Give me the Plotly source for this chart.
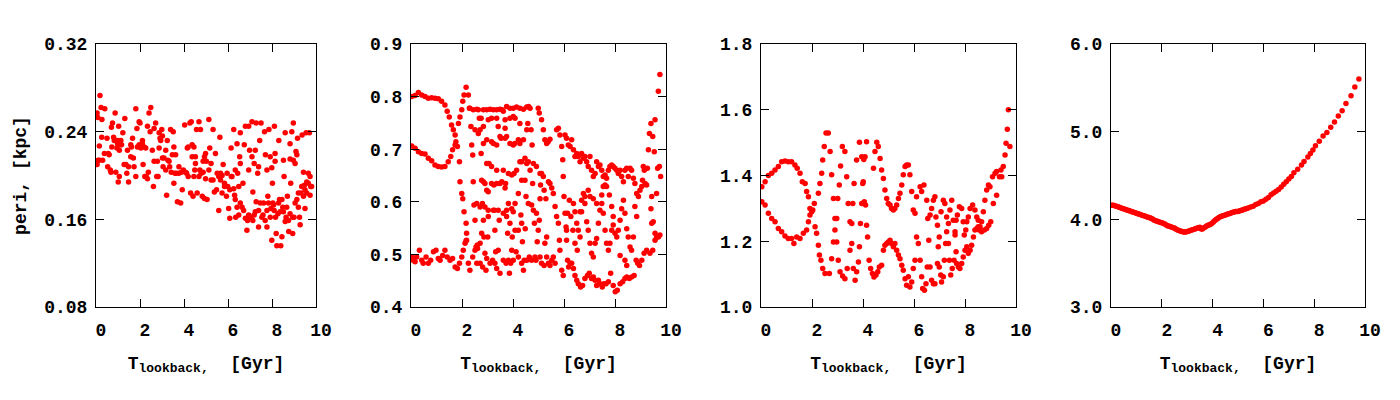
import plotly.graph_objects as go

# (T_lookback [Gyr], peri [kpc])
peri_a = [
    (0.05, 0.257), (0.18, 0.273), (0.08, 0.253), (0.23, 0.262), (0.27, 0.251), (0.4, 0.261), (0.26, 0.235),
    (0.15, 0.227), (0.05, 0.21), (0.1, 0.214), (0.3, 0.214), (0.5, 0.234), (0.56, 0.22), (0.53, 0.208),
    (0.68, 0.203), (0.75, 0.248), (0.7, 0.244), (0.87, 0.257), (0.8, 0.235), (0.9, 0.232), (0.98, 0.229),
    (1.03, 0.245), (1.06, 0.199), (1.01, 0.194), (1.13, 0.232), (1.16, 0.228), (1.22, 0.239), (1.31, 0.252),
    (1.28, 0.21), (1.4, 0.202), (1.43, 0.223), (1.48, 0.194), (1.58, 0.228), (1.66, 0.234), (1.7, 0.216),
    (1.73, 0.208), (1.81, 0.261), (1.86, 0.243), (1.81, 0.199), (1.96, 0.249), (2.0, 0.248), (2.04, 0.225),
    (2.11, 0.232), (2.14, 0.21), (2.22, 0.199), (2.26, 0.225), (2.34, 0.245), (2.38, 0.203), (2.49, 0.262),
    (2.46, 0.24), (2.56, 0.223), (2.61, 0.19), (2.64, 0.243), (2.71, 0.248), (2.79, 0.213), (2.82, 0.199),
    (2.87, 0.225), (2.94, 0.232), (2.99, 0.242), (3.05, 0.208), (3.09, 0.216), (3.17, 0.223), (3.21, 0.182),
    (3.24, 0.232), (3.32, 0.213), (3.39, 0.242), (3.42, 0.203), (3.51, 0.24), (3.54, 0.193), (3.62, 0.219),
    (3.65, 0.202), (3.7, 0.176), (3.77, 0.208), (3.85, 0.175), (3.88, 0.203), (3.92, 0.187), (4.03, 0.246),
    (4.07, 0.203), (4.15, 0.225), (4.19, 0.199), (4.27, 0.248), (4.3, 0.184), (4.33, 0.249), (4.37, 0.217),
    (4.41, 0.181), (4.45, 0.199), (4.52, 0.211), (4.57, 0.242), (4.6, 0.184), (4.68, 0.249), (4.72, 0.205),
    (4.75, 0.242), (4.83, 0.181), (4.87, 0.213), (4.93, 0.179), (4.98, 0.22), (5.05, 0.178), (5.13, 0.251),
    (5.17, 0.225), (5.23, 0.196), (5.32, 0.242), (5.38, 0.185), (5.43, 0.22), (5.51, 0.202), (5.58, 0.168),
    (5.63, 0.235), (5.66, 0.202), (5.73, 0.184), (5.78, 0.21), (5.84, 0.193), (5.93, 0.181), (6.03, 0.17),
    (6.08, 0.161), (6.14, 0.225), (6.18, 0.199), (6.26, 0.242), (6.3, 0.182), (6.35, 0.162), (6.41, 0.229),
    (6.44, 0.202), (6.49, 0.164), (6.53, 0.217), (6.56, 0.239), (6.64, 0.171), (6.68, 0.193), (6.74, 0.228),
    (6.79, 0.245), (6.86, 0.15), (6.89, 0.159), (6.94, 0.245), (6.98, 0.223), (7.04, 0.162), (7.09, 0.249),
    (7.13, 0.185), (7.19, 0.211), (7.24, 0.167), (7.28, 0.248), (7.35, 0.202), (7.39, 0.153), (7.44, 0.232),
    (7.5, 0.248), (7.54, 0.162), (7.62, 0.175), (7.66, 0.24), (7.7, 0.219), (7.77, 0.153), (7.81, 0.181),
    (7.86, 0.242), (7.92, 0.217), (7.99, 0.141), (8.02, 0.193), (8.07, 0.173), (8.11, 0.245), (8.14, 0.213),
    (8.19, 0.147), (8.22, 0.136), (8.27, 0.165), (8.31, 0.232), (8.34, 0.178), (8.4, 0.136), (8.45, 0.144),
    (8.49, 0.171), (8.55, 0.199), (8.6, 0.239), (8.64, 0.162), (8.7, 0.181), (8.76, 0.149), (8.82, 0.229),
    (8.85, 0.193), (8.9, 0.24), (8.94, 0.147), (8.97, 0.248), (9.0, 0.162), (9.05, 0.211), (9.09, 0.222),
    (9.16, 0.234), (9.2, 0.171), (9.25, 0.162), (9.28, 0.155), (9.32, 0.184), (9.37, 0.237), (9.43, 0.203),
    (9.47, 0.191), (9.5, 0.17), (9.55, 0.239), (9.58, 0.194), (9.65, 0.202), (9.7, 0.239), (9.73, 0.182),
    (9.76, 0.19),
    (0.0, 0.255), (0.03, 0.213), (0.15, 0.214), (0.38, 0.22), (0.6, 0.219), (0.72, 0.226), (0.83, 0.232),
    (0.95, 0.225), (1.06, 0.223), (1.1, 0.228), (1.01, 0.232), (0.9, 0.203), (0.65, 0.205), (1.36, 0.21),
    (1.48, 0.208), (1.58, 0.217), (1.61, 0.226), (1.88, 0.226), (1.96, 0.228), (2.11, 0.229), (2.19, 0.226),
    (2.28, 0.199), (2.34, 0.197), (2.41, 0.257), (2.64, 0.213), (2.76, 0.199), (2.87, 0.239), (2.91, 0.234),
    (3.02, 0.236), (3.02, 0.216), (3.17, 0.205), (3.27, 0.214), (3.35, 0.208), (3.47, 0.219), (3.54, 0.226),
    (3.59, 0.202), (3.77, 0.202), (3.97, 0.205), (4.12, 0.202), (4.19, 0.226), (4.37, 0.228), (4.45, 0.226),
    (4.49, 0.205), (4.52, 0.217), (4.68, 0.199), (4.78, 0.202), (4.87, 0.203), (4.93, 0.217), (4.98, 0.197),
    (5.02, 0.213), (5.13, 0.205), (5.23, 0.211), (5.32, 0.196), (5.48, 0.187), (5.58, 0.199), (5.66, 0.196),
    (5.73, 0.2), (5.84, 0.19), (5.96, 0.202), (5.99, 0.19), (6.08, 0.187), (6.15, 0.199), (6.26, 0.188),
    (6.33, 0.178), (6.41, 0.171), (6.49, 0.19), (6.56, 0.175), (6.71, 0.168), (6.79, 0.161), (6.94, 0.164),
    (7.01, 0.162), (7.13, 0.159), (7.19, 0.164), (7.28, 0.176), (7.39, 0.168), (7.47, 0.175), (7.59, 0.164),
    (7.69, 0.159), (7.77, 0.168), (7.84, 0.175), (7.92, 0.162), (7.95, 0.17), (8.04, 0.175), (8.1, 0.168),
    (8.16, 0.162), (8.3, 0.175), (8.37, 0.167), (8.45, 0.178), (8.52, 0.167), (8.6, 0.158), (8.67, 0.171),
    (8.75, 0.159), (8.82, 0.165), (8.94, 0.162), (9.05, 0.175), (9.13, 0.178), (9.2, 0.184), (9.35, 0.19),
    (9.43, 0.181), (9.5, 0.187), (9.58, 0.184), (9.65, 0.193), (9.73, 0.199), (9.8, 0.19), (8.82, 0.215),
    (8.97, 0.214), (9.13, 0.219), (8.52, 0.214), (8.14, 0.22), (7.99, 0.207), (7.77, 0.205), (7.39, 0.208),
    (7.24, 0.223), (7.09, 0.217), (6.94, 0.205), (6.56, 0.211), (6.33, 0.205),
]

peri_b = [
    (0.03, 0.80), (0.16, 0.802), (0.29, 0.808), (0.42, 0.803), (0.55, 0.80), (0.68, 0.797), (0.81, 0.798),
    (0.94, 0.797), (1.07, 0.796), (1.2, 0.791), (1.33, 0.784), (1.42, 0.772), (1.5, 0.761), (1.59, 0.746),
    (1.66, 0.737), (1.73, 0.727), (1.76, 0.714),
    (0.03, 0.706), (0.16, 0.702), (0.29, 0.695), (0.42, 0.692), (0.55, 0.691), (0.68, 0.683), (0.81, 0.678),
    (0.94, 0.67), (1.07, 0.667), (1.2, 0.666), (1.33, 0.667), (1.46, 0.676), (1.56, 0.686), (1.63, 0.699),
    (1.73, 0.708),
    (1.82, 0.705), (1.9, 0.676), (1.92, 0.638), (1.99, 0.616), (2.03, 0.606), (2.08, 0.581), (2.16, 0.559),
    (2.18, 0.54), (2.16, 0.526), (1.86, 0.749), (1.92, 0.761), (1.99, 0.775), (2.03, 0.791), (2.08, 0.803),
    (2.16, 0.818), (2.25, 0.803), (2.29, 0.778),
    (2.31, 0.778), (2.35, 0.743), (2.38, 0.708), (2.42, 0.689), (2.44, 0.638), (2.47, 0.594), (2.51, 0.565),
    (2.55, 0.514), (2.58, 0.483), (2.61, 0.511), (2.64, 0.775), (2.68, 0.759), (2.71, 0.737), (2.75, 0.692),
    (2.77, 0.641), (2.8, 0.597), (2.84, 0.565), (2.86, 0.533), (2.9, 0.502), (2.94, 0.47), (2.97, 0.492),
    (3.01, 0.533), (3.03, 0.572), (3.03, 0.619), (3.06, 0.673), (3.1, 0.776), (3.16, 0.759), (3.23, 0.711),
    (3.25, 0.632), (3.27, 0.584), (3.29, 0.546), (3.32, 0.505), (3.36, 0.473), (3.42, 0.508), (3.46, 0.565),
    (3.49, 0.635), (3.53, 0.721), (3.57, 0.775), (3.62, 0.772), (3.69, 0.721), (3.71, 0.635), (3.75, 0.584),
    (3.79, 0.54), (3.82, 0.489), (3.86, 0.464), (3.91, 0.483), (3.95, 0.508), (3.97, 0.533), (4.01, 0.581),
    (4.04, 0.654), (4.07, 0.711), (4.08, 0.759), (4.14, 0.78), (4.21, 0.718), (4.27, 0.676), (4.31, 0.575),
    (4.37, 0.524), (4.41, 0.47), (4.44, 0.489), (4.48, 0.549), (4.51, 0.61), (4.54, 0.673), (4.58, 0.749),
    (4.61, 0.781), (4.67, 0.778), (4.71, 0.737), (4.75, 0.708), (4.77, 0.635), (4.8, 0.584), (4.84, 0.559),
    (4.86, 0.495), (4.9, 0.489), (4.95, 0.524), (4.99, 0.546), (5.03, 0.565), (5.06, 0.606), (5.08, 0.632),
    (4.99, 0.778), (5.03, 0.769), (5.12, 0.756), (5.19, 0.737), (5.25, 0.718), (5.32, 0.711), (5.38, 0.714),
    (5.45, 0.719), (5.39, 0.638), (5.45, 0.635), (5.52, 0.626), (5.58, 0.616), (5.65, 0.591), (5.71, 0.572),
    (5.78, 0.559), (5.82, 0.527), (5.84, 0.508), (5.32, 0.495), (5.39, 0.483), (5.45, 0.479), (5.52, 0.489),
    (5.58, 0.495), (5.65, 0.483), (5.71, 0.737), (5.78, 0.74), (5.84, 0.727), (5.91, 0.705), (5.95, 0.68),
    (5.97, 0.648), (6.0, 0.61), (6.04, 0.578), (6.08, 0.552), (6.1, 0.527), (6.14, 0.489), (6.18, 0.476),
    (6.24, 0.483), (5.91, 0.47), (5.97, 0.46), (6.04, 0.727), (6.1, 0.721), (6.17, 0.708), (6.24, 0.705),
    (6.3, 0.718), (6.37, 0.699), (6.43, 0.686), (6.5, 0.692), (6.56, 0.686), (6.63, 0.676), (6.69, 0.692),
    (6.76, 0.683), (6.82, 0.686), (6.89, 0.676), (6.95, 0.667), (7.02, 0.686), (7.08, 0.66), (7.15, 0.648),
    (7.22, 0.654), (7.28, 0.676), (7.35, 0.667), (7.41, 0.67), (7.48, 0.66), (7.54, 0.648), (7.61, 0.651),
    (7.67, 0.645), (7.74, 0.66), (7.8, 0.667), (7.87, 0.67), (7.93, 0.667), (8.0, 0.664), (8.07, 0.66),
    (8.13, 0.654), (8.2, 0.66), (8.26, 0.648), (8.33, 0.638), (8.39, 0.66), (8.46, 0.664), (8.52, 0.648),
    (8.59, 0.664), (8.65, 0.66), (8.72, 0.645), (8.78, 0.635), (8.85, 0.616), (8.92, 0.61), (8.98, 0.622),
    (9.05, 0.629), (9.08, 0.641), (9.11, 0.667), (9.15, 0.66), (9.18, 0.635), (9.24, 0.632), (9.27, 0.664),
    (9.31, 0.699), (9.35, 0.73), (9.41, 0.749), (9.48, 0.724), (9.54, 0.695), (9.57, 0.756), (9.63, 0.616),
    (9.67, 0.664), (9.7, 0.81), (9.76, 0.842), (9.79, 0.648), (9.74, 0.667), (9.44, 0.61), (9.41, 0.587),
    (9.44, 0.559), (9.5, 0.562), (9.57, 0.54), (9.63, 0.533), (9.7, 0.533), (9.76, 0.537), (9.57, 0.527),
    (9.48, 0.508), (9.37, 0.502), (9.24, 0.508), (9.14, 0.502), (9.05, 0.489), (8.96, 0.479), (8.89, 0.483),
    (8.83, 0.489), (8.75, 0.46), (8.65, 0.457), (8.56, 0.454), (8.46, 0.457), (8.39, 0.454), (8.3, 0.448),
    (8.2, 0.444), (8.09, 0.432), (8.01, 0.429), (7.93, 0.441), (7.83, 0.464), (7.74, 0.448), (7.65, 0.444),
    (7.57, 0.444), (7.5, 0.438), (7.41, 0.444), (7.35, 0.451), (7.28, 0.441), (7.22, 0.451), (7.15, 0.457),
    (7.08, 0.454), (6.99, 0.464), (6.92, 0.46), (6.82, 0.454), (6.73, 0.441), (6.65, 0.438), (6.56, 0.444),
    (6.5, 0.451), (6.43, 0.46), (6.37, 0.473), (6.3, 0.483),
    (6.37, 0.597), (6.43, 0.581), (6.5, 0.559), (6.56, 0.546), (6.63, 0.581), (6.69, 0.603), (6.76, 0.616),
    (6.82, 0.597), (6.89, 0.562), (6.95, 0.546), (7.02, 0.521), (7.08, 0.502), (7.15, 0.495), (7.22, 0.521),
    (7.28, 0.53), (7.35, 0.559), (7.41, 0.584), (7.48, 0.597), (7.54, 0.578), (7.61, 0.546), (7.67, 0.521),
    (7.74, 0.508), (7.8, 0.521), (7.87, 0.546), (7.93, 0.556), (8.0, 0.54), (8.07, 0.533), (8.13, 0.546),
    (8.2, 0.565), (8.26, 0.587), (8.33, 0.603), (8.39, 0.578), (8.46, 0.549), (8.52, 0.533), (8.59, 0.514),
    (8.65, 0.508), (8.72, 0.533), (8.78, 0.591), (8.85, 0.572), (8.39, 0.489), (8.46, 0.479), (8.2, 0.498),
    (7.93, 0.572), (7.87, 0.591), (7.78, 0.613), (7.67, 0.629), (7.61, 0.632), (7.54, 0.629), (7.48, 0.613),
    (7.28, 0.597), (7.15, 0.606), (7.02, 0.61), (6.95, 0.622), (6.82, 0.61), (6.69, 0.581), (6.63, 0.533),
    (6.52, 0.508), (6.43, 0.521), (6.35, 0.546), (6.27, 0.572), (6.21, 0.603), (6.14, 0.578), (6.1, 0.546),
    (0.03, 0.495), (0.09, 0.489), (0.16, 0.486), (0.22, 0.495), (0.33, 0.508), (0.42, 0.489), (0.48, 0.483),
    (0.59, 0.495), (0.68, 0.483), (0.77, 0.489), (0.88, 0.505), (0.98, 0.508), (1.07, 0.492), (1.14, 0.489),
    (1.24, 0.498), (1.33, 0.508), (1.42, 0.495), (1.53, 0.489), (1.63, 0.492), (1.73, 0.476), (1.82, 0.473),
    (1.9, 0.483), (1.99, 0.495), (2.05, 0.508), (2.12, 0.521), (2.18, 0.527),
    (2.25, 0.483), (2.31, 0.47), (2.42, 0.495), (2.51, 0.508), (2.6, 0.518), (2.71, 0.483), (2.81, 0.476),
    (3.1, 0.483), (3.2, 0.489), (3.29, 0.483), (3.49, 0.464), (3.62, 0.489), (3.73, 0.483), (4.01, 0.489),
    (4.12, 0.505), (4.21, 0.495), (4.34, 0.483), (4.54, 0.489), (4.64, 0.495), (4.73, 0.489), (5.06, 0.495),
    (5.12, 0.483), (5.22, 0.479),
    (2.71, 0.521), (2.77, 0.54), (2.84, 0.638), (2.9, 0.635), (2.97, 0.622), (3.16, 0.635), (3.36, 0.635),
    (3.56, 0.638), (3.69, 0.626), (3.82, 0.597), (3.95, 0.587), (4.08, 0.597), (4.21, 0.616), (4.34, 0.641),
    (4.47, 0.641), (4.6, 0.597), (4.73, 0.594), (4.92, 0.578), (2.58, 0.597), (2.71, 0.59), (2.9, 0.59),
    (3.03, 0.584), (3.23, 0.584), (3.42, 0.584), (3.62, 0.578), (3.75, 0.572), (3.88, 0.559), (4.08, 0.546),
    (4.21, 0.546), (4.34, 0.559), (2.84, 0.711), (2.97, 0.718), (3.16, 0.714), (3.36, 0.708), (3.49, 0.724),
    (3.75, 0.724), (3.88, 0.711), (4.01, 0.708), (4.27, 0.711), (4.41, 0.718), (2.51, 0.737), (2.64, 0.73),
    (2.44, 0.775), (2.58, 0.776), (2.84, 0.775), (2.97, 0.775), (3.23, 0.775), (3.36, 0.775), (3.49, 0.776),
    (3.75, 0.781), (3.88, 0.778), (4.01, 0.778), (4.27, 0.778), (4.41, 0.776), (4.54, 0.78), (4.01, 0.762),
    (3.88, 0.759), (3.69, 0.756), (3.36, 0.759), (3.03, 0.756), (2.75, 0.759), (2.84, 0.743), (3.42, 0.743),
    (3.69, 0.74), (4.27, 0.749), (4.54, 0.737), (2.97, 0.673), (3.16, 0.667), (3.36, 0.66), (3.62, 0.66),
    (3.82, 0.654), (3.95, 0.651), (4.14, 0.66), (4.34, 0.676), (4.47, 0.683), (4.6, 0.676), (4.8, 0.673),
    (4.67, 0.66), (4.92, 0.667), (5.06, 0.654), (5.12, 0.654), (5.19, 0.648), (5.22, 0.622), (5.29, 0.606),
    (5.25, 0.521), (5.32, 0.533),
]

peri_c = [
    (0.03, 1.366), (0.16, 1.381), (0.29, 1.40), (0.42, 1.407), (0.55, 1.417), (0.68, 1.427), (0.81, 1.442),
    (0.94, 1.444), (1.07, 1.442), (1.2, 1.442), (1.33, 1.432), (1.42, 1.422), (1.53, 1.407), (1.62, 1.381),
    (1.73, 1.376), (1.79, 1.351), (1.86, 1.335), (1.92, 1.30), (1.99, 1.29),
    (0.03, 1.32), (0.16, 1.31), (0.29, 1.285), (0.42, 1.269), (0.55, 1.259), (0.68, 1.239), (0.81, 1.229),
    (0.94, 1.216), (1.07, 1.208), (1.2, 1.208), (1.29, 1.193), (1.4, 1.213), (1.53, 1.208), (1.66, 1.224),
    (1.79, 1.234), (1.86, 1.259), (1.92, 1.28), (2.03, 1.295),
    (2.09, 1.315), (2.12, 1.244), (2.18, 1.224), (2.25, 1.188), (2.29, 1.158), (2.35, 1.142), (2.42, 1.117),
    (2.51, 1.102), (2.68, 1.102), (2.77, 1.147), (2.84, 1.198), (2.9, 1.234), (2.97, 1.269), (3.01, 1.33),
    (3.07, 1.371), (3.12, 1.429), (3.19, 1.488), (3.29, 1.473), (3.36, 1.396), (3.42, 1.315), (3.49, 1.259),
    (3.56, 1.193), (3.62, 1.117), (3.69, 1.081), (3.75, 1.107), (3.82, 1.137), (3.86, 1.183), (3.9, 1.254),
    (3.95, 1.315), (3.99, 1.376), (4.03, 1.449), (4.08, 1.457), (4.14, 1.503), (2.25, 1.346), (2.31, 1.376),
    (2.38, 1.407), (2.42, 1.447), (2.48, 1.488), (2.55, 1.529), (2.64, 1.529), (2.71, 1.473), (2.77, 1.402),
    (2.84, 1.33), (2.9, 1.269), (2.97, 1.198), (3.03, 1.142), (3.1, 1.107), (3.2, 1.094), (3.29, 1.086),
    (3.38, 1.117), (3.49, 1.173), (3.56, 1.254), (3.6, 1.315), (3.65, 1.376), (3.75, 1.447), (3.86, 1.501),
    (3.95, 1.457), (4.01, 1.381), (4.05, 1.32), (4.1, 1.31), (4.14, 1.249), (4.18, 1.213), (4.24, 1.142),
    (4.3, 1.117), (4.37, 1.102), (4.43, 1.091), (4.51, 1.097), (4.58, 1.107), (4.64, 1.122), (4.73, 1.127),
    (4.41, 1.422), (4.47, 1.473), (4.54, 1.501), (4.6, 1.488), (4.67, 1.452), (4.73, 1.417), (4.8, 1.391),
    (4.86, 1.356), (4.93, 1.33), (4.99, 1.315), (5.06, 1.31), (5.12, 1.30), (5.19, 1.295), (5.25, 1.30),
    (5.32, 1.31), (5.39, 1.33), (5.45, 1.346), (5.52, 1.371), (5.58, 1.402), (5.65, 1.427), (5.71, 1.432),
    (5.78, 1.432), (5.84, 1.402), (5.91, 1.351), (5.97, 1.295), (6.04, 1.285),
    (4.8, 1.173), (4.86, 1.188), (4.93, 1.193), (4.99, 1.198), (5.06, 1.203), (5.12, 1.193), (5.19, 1.183),
    (5.25, 1.193), (5.32, 1.173), (5.39, 1.158), (5.45, 1.147), (5.52, 1.127), (5.58, 1.112), (5.65, 1.086),
    (5.71, 1.066), (5.78, 1.092), (5.84, 1.061), (5.91, 1.076), (5.97, 1.117), (6.04, 1.142), (6.1, 1.213),
    (6.17, 1.193), (6.24, 1.142), (6.3, 1.092), (6.34, 1.056), (6.41, 1.051), (6.47, 1.071), (6.52, 1.122),
    (6.58, 1.203), (6.63, 1.28), (6.69, 1.30), (6.76, 1.325), (6.82, 1.335), (6.86, 1.274), (6.92, 1.249),
    (6.95, 1.183), (6.99, 1.122), (7.05, 1.097), (7.08, 1.076), (7.15, 1.092), (7.19, 1.142), (7.24, 1.193),
    (7.28, 1.229), (7.35, 1.254), (7.41, 1.295), (7.48, 1.325), (7.54, 1.264), (7.61, 1.229), (7.65, 1.168),
    (7.67, 1.132), (7.74, 1.122), (7.8, 1.117), (7.87, 1.132), (7.93, 1.152), (8.0, 1.173), (8.07, 1.183),
    (8.13, 1.163), (8.2, 1.173), (8.26, 1.188), (8.33, 1.213), (8.39, 1.234), (8.46, 1.239), (8.52, 1.244),
    (8.59, 1.244), (8.65, 1.259), (8.72, 1.29), (8.78, 1.325), (8.85, 1.356), (8.92, 1.371), (8.98, 1.366),
    (9.08, 1.396), (9.18, 1.407), (9.24, 1.412), (9.35, 1.396), (9.41, 1.417), (9.5, 1.427), (9.57, 1.462),
    (9.61, 1.498), (9.66, 1.541), (9.7, 1.60), (9.76, 1.488),
    (6.1, 1.335), (6.24, 1.366), (6.3, 1.351), (6.39, 1.371), (6.5, 1.325), (6.54, 1.269), (6.63, 1.122),
    (6.69, 1.081), (6.76, 1.071), (6.82, 1.071), (6.92, 1.132), (6.99, 1.213), (7.06, 1.29), (7.15, 1.325),
    (7.21, 1.315), (7.28, 1.274), (7.35, 1.193), (7.39, 1.142), (7.44, 1.097), (7.5, 1.117), (7.57, 1.142),
    (7.61, 1.219), (7.65, 1.264), (7.7, 1.28), (7.78, 1.305), (7.87, 1.30), (7.93, 1.259), (7.97, 1.219),
    (8.03, 1.234), (8.07, 1.259), (8.13, 1.274), (8.2, 1.30), (8.3, 1.31), (8.39, 1.295), (8.46, 1.274),
    (8.52, 1.264), (8.56, 1.234), (8.65, 1.229), (8.76, 1.234), (8.85, 1.239), (8.93, 1.249), (9.01, 1.259),
    (9.11, 1.315), (9.24, 1.34), (9.44, 1.396),
]

peri_d = [
    (0.0, 4.16), (0.05, 4.16), (0.1, 4.16), (0.15, 4.155), (0.2, 4.15), (0.25, 4.145), (0.3, 4.14),
    (0.35, 4.135), (0.4, 4.13), (0.45, 4.125), (0.5, 4.12), (0.55, 4.115), (0.6, 4.11), (0.65, 4.105),
    (0.7, 4.10), (0.75, 4.095), (0.8, 4.09), (0.85, 4.085), (0.9, 4.08), (0.95, 4.075), (1.0, 4.07),
    (1.05, 4.065), (1.1, 4.06), (1.15, 4.055), (1.2, 4.05), (1.25, 4.045), (1.3, 4.04), (1.35, 4.035),
    (1.4, 4.03), (1.45, 4.025), (1.5, 4.02), (1.55, 4.015), (1.6, 4.01), (1.65, 4.00), (1.7, 3.99),
    (1.75, 3.985), (1.8, 3.98), (1.85, 3.975), (1.9, 3.97), (1.95, 3.965), (2.0, 3.96), (2.05, 3.955),
    (2.1, 3.95), (2.15, 3.94), (2.2, 3.93), (2.25, 3.925), (2.3, 3.92), (2.35, 3.915), (2.4, 3.91),
    (2.45, 3.905), (2.5, 3.90), (2.55, 3.89), (2.6, 3.88), (2.65, 3.875), (2.7, 3.87), (2.75, 3.865),
    (2.8, 3.86), (2.85, 3.855), (2.9, 3.855), (2.95, 3.855), (3.0, 3.86), (3.05, 3.865), (3.1, 3.87),
    (3.15, 3.875), (3.2, 3.88), (3.25, 3.885), (3.3, 3.89), (3.35, 3.895), (3.4, 3.90), (3.45, 3.905),
    (3.5, 3.91), (3.55, 3.89), (3.6, 3.89), (3.65, 3.90), (3.7, 3.91), (3.75, 3.92), (3.8, 3.93),
    (3.85, 3.935), (3.9, 3.94), (3.95, 3.95), (4.0, 3.96), (4.05, 3.975), (4.1, 3.99), (4.15, 4.00),
    (4.2, 4.01), (4.25, 4.02), (4.3, 4.03), (4.35, 4.035), (4.4, 4.04), (4.45, 4.045), (4.5, 4.05),
    (4.55, 4.055), (4.6, 4.06), (4.65, 4.065), (4.7, 4.07), (4.75, 4.075), (4.8, 4.08), (4.85, 4.085),
    (4.9, 4.09), (4.95, 4.09), (5.0, 4.09), (5.05, 4.095), (5.1, 4.10), (5.15, 4.105), (5.2, 4.11),
    (5.25, 4.115), (5.3, 4.12), (5.35, 4.125), (5.4, 4.13), (5.5, 4.14), (5.6, 4.15), (5.7, 4.17),
    (5.8, 4.18), (5.9, 4.20), (6.0, 4.21), (6.1, 4.23), (6.2, 4.25), (6.3, 4.28), (6.4, 4.30),
    (6.5, 4.32), (6.6, 4.34), (6.7, 4.37), (6.8, 4.40), (6.9, 4.43), (7.0, 4.46), (7.1, 4.49),
    (7.2, 4.53), (7.35, 4.57), (7.5, 4.62), (7.6, 4.66), (7.75, 4.71), (7.85, 4.75), (7.95, 4.79),
    (8.05, 4.84), (8.2, 4.89), (8.35, 4.95), (8.5, 4.99), (8.65, 5.05), (8.8, 5.11), (8.95, 5.18),
    (9.1, 5.24), (9.25, 5.32), (9.45, 5.41), (9.6, 5.51), (9.76, 5.60),
]

y_ranges = [(0.08, 0.32), (0.4, 0.9), (1.0, 1.8), (3.0, 6.0)]
y_dticks = [0.08, 0.1, 0.2, 1.0]
y_formats = ['.2f', '.1f', '.1f', '.1f']
x_ticks = [0, 2, 4, 6, 8, 10]

W, H = 1400, 400
# plot frames in pixels (left, right); top / bottom shared
frames = [(96, 316), (411, 666), (761, 1016), (1111, 1365)]
top_px, bot_px = 44, 307

font = dict(family='Liberation Mono', size=18, color='black', weight='bold')
x_title = 'T<sub><span style="font-size:13px">lookback,</span></sub>&nbsp; [Gyr]'

fig = go.Figure()
layout = dict(
    width=W, height=H,
    margin=dict(l=0, r=0, t=0, b=0),
    paper_bgcolor='white', plot_bgcolor='white',
    showlegend=False,
    font=font,
)

for i, pts in enumerate([peri_a, peri_b, peri_c, peri_d]):
    t = [p[0] for p in pts]
    r = [p[1] for p in pts]
    n = '' if i == 0 else str(i + 1)
    fig.add_trace(go.Scatter(
        x=t, y=r, mode='markers',
        marker=dict(color='#ff0000', size=5.5, line=dict(width=0)),
        xaxis='x' + n, yaxis='y' + n,
    ))
    l, rr = frames[i]
    common = dict(showline=True, linecolor='black', linewidth=1, mirror='ticks',
                  ticks='inside', ticklen=8, tickcolor='black', tickwidth=1,
                  showgrid=False, zeroline=False, tickfont=font, automargin=False)
    layout['xaxis' + n] = dict(
        common, domain=[l / W, rr / W], range=[0, 10], tickvals=x_ticks,
        anchor='y' + n, ticklabelshift=5, ticklabelstandoff=6,
        title=dict(text=x_title, font=font, standoff=16),
    )
    y0, y1 = y_ranges[i]
    layout['yaxis' + n] = dict(
        common, domain=[1 - bot_px / H, 1 - top_px / H], range=[y0, y1],
        tick0=y0, dtick=y_dticks[i], tickformat=y_formats[i], anchor='x' + n,
        ticklabelstandoff=4,
    )

layout['yaxis']['title'] = dict(text='peri, [kpc]', font=font, standoff=12)

fig.update_layout(**layout)
# page body has an 8px default margin; drop it so the figure sits at the window origin
fig.write_html('out.html', config={'displayModeBar': False},
               post_script="document.body.style.margin='0';")
